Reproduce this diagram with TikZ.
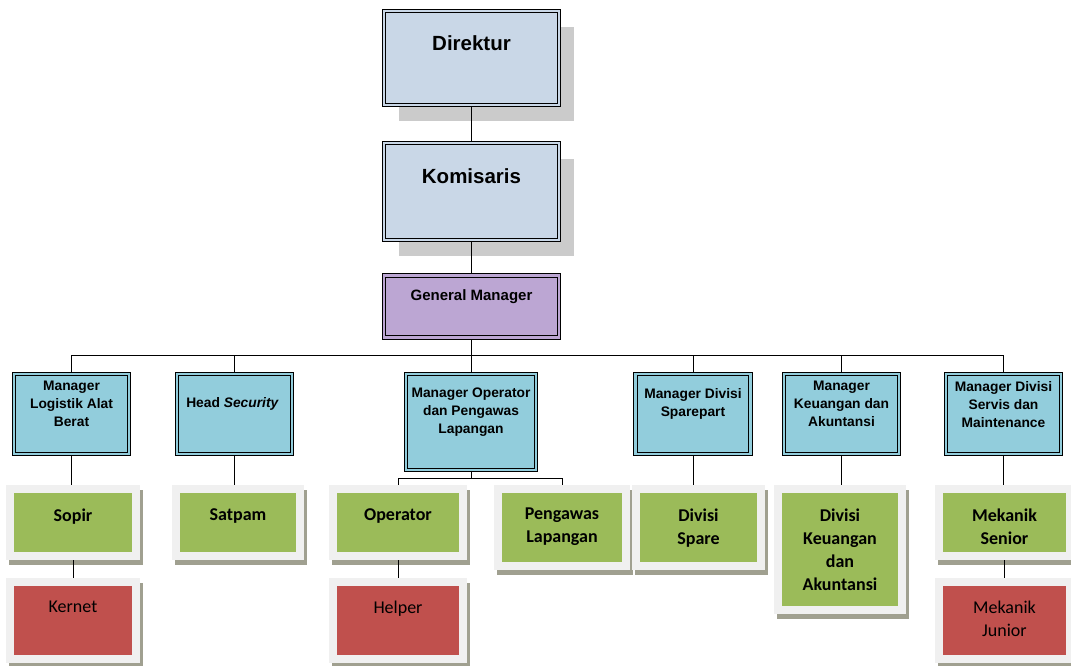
\documentclass[tikz,border=0pt]{standalone}
\usepackage{fontspec}
\setmainfont{Carlito}
\newfontfamily\arialfont{Liberation Sans}
\usetikzlibrary{positioning}
\definecolor{topFill}{HTML}{C9D7E7}
\definecolor{gmFill}{HTML}{BCA6D3}
\definecolor{mgrFill}{HTML}{92CDDC}
\definecolor{staffFill}{HTML}{9BBB59}
\definecolor{helperFill}{HTML}{C0504D}
\definecolor{frameGray}{HTML}{F0F0F0}
\definecolor{topShadow}{HTML}{CBCBCB}
\definecolor{staffShadow}{HTML}{A0A090}
\tikzstyle{conn} = [draw=black, line width=0.8pt]
\tikzstyle{dblBox} = [shape = rectangle, draw=black, line width=0.9pt, double distance=2.4pt, inner sep=0pt, outer sep=2.1pt]
\tikzstyle{topNode} = [dblBox, fill=topFill, double=topFill, minimum width=175pt, preaction={fill=topShadow, transform canvas={xshift=15pt, yshift=-16pt}}]
\tikzstyle{gmNode} = [dblBox, fill=gmFill, double=gmFill, minimum width=175pt, minimum height=62pt]
\tikzstyle{mgrNode} = [dblBox, fill=mgrFill, double=mgrFill, minimum width=115pt, minimum height=80pt, anchor=north]
\tikzstyle{frameBox} = [shape = rectangle, draw=frameGray, line width=8pt, inner sep=0pt, outer sep=4pt, minimum width=126pt, preaction={draw=staffShadow, fill=staffShadow, line width=8pt, transform canvas={xshift=3pt, yshift=-5pt}}]
\tikzstyle{staffNode} = [frameBox, fill=staffFill, minimum height=67pt]
\tikzstyle{helperNode} = [frameBox, fill=helperFill, minimum height=77pt]
\tikzstyle{topText} = [inner sep=0pt, font=\arialfont\bfseries\fontsize{20.5}{24}\selectfont]
\tikzstyle{gmText} = [inner sep=0pt, font=\arialfont\bfseries\fontsize{15}{18}\selectfont]
\tikzstyle{mgrText} = [inner sep=0pt, align=center, font=\arialfont\bfseries\fontsize{13.8}{18}\selectfont]
\tikzstyle{staffText} = [inner sep=0pt, align=center, anchor=north, font=\bfseries\fontsize{18}{23}\selectfont]
\tikzstyle{helperText} = [inner sep=0pt, align=center, anchor=north, font=\fontsize{18}{23}\selectfont]

\begin{document}
\begin{tikzpicture}[x=1pt, y=-1pt]
					\path[use as bounding box, fill=white] (0,0) rectangle (1071,666);
					\node (Dir) [topNode, minimum height=94pt] at (471.5,58) {};
					\node (Kom) [topNode, minimum height=97pt, below = 34pt of Dir] {};
					\node (GM) [gmNode, below = 31pt of Kom] {};
					\node (DirText) [topText] at ([yshift=-34.5pt]Dir.north) {Direktur};
					\node (KomText) [topText] at ([yshift=-35pt]Kom.north) {Komisaris};
					\node (GMText) [gmText] at ([yshift=-23pt]GM.north) {General Manager};
					\node (Mgr1) [mgrNode] at (71.5,372) {};
					\node (Mgr2) [mgrNode] at (234.5,372) {};
					\node (Mgr3) [mgrNode, minimum width=130pt, minimum height=96pt] at (471,372) {};
					\node (Mgr4) [mgrNode] at (693,372) {};
					\node (Mgr5) [mgrNode] at (841.5,372) {};
					\node (Mgr6) [mgrNode] at (1003.5,372) {};
					\node (Mgr1Text) [mgrText] at ([yshift=10pt]Mgr1.center) {
						Manager\\Logistik Alat\\Berat
					};
					\node (Mgr2Text) [mgrText] at ([yshift=10pt]Mgr2.center) {
						Head \textit{Security}
					};
					\node (Mgr3Text) [mgrText] at ([yshift=9.5pt]Mgr3.center) {
						Manager Operator\\dan Pengawas\\Lapangan
					};
					\node (Mgr4Text) [mgrText] at ([yshift=10pt]Mgr4.center) {
						Manager Divisi\\Sparepart
					};
					\node (Mgr5Text) [mgrText] at ([yshift=10pt]Mgr5.center) {
						Manager\\Keuangan dan\\Akuntansi
					};
					\node (Mgr6Text) [mgrText] at ([yshift=10pt]Mgr6.center) {
						Manager Divisi\\Servis dan\\Maintenance
					};
					\node (Sopir) [staffNode, below = 29pt of Mgr1, xshift=1.5pt] {};
					\node (Satpam) [staffNode, minimum width=124pt, below = 29pt of Mgr2, xshift=3.5pt] {};
					\node (Operator) [staffNode, minimum width=130pt, anchor=north] at (398,485) {};
					\node (Pengawas) [staffNode, minimum width=128pt, minimum height=77pt, anchor=north] at (562,485) {};
					\node (Spare) [staffNode, minimum width=125pt, minimum height=77pt, below = 29pt of Mgr4, xshift=5.5pt] {};
					\node (Keuangan) [staffNode, minimum width=124pt, minimum height=121pt, below = 29pt of Mgr5, xshift=-1.5pt] {};
					\node (Senior) [staffNode, minimum width=131pt, below = 29pt of Mgr6, xshift=1pt] {};
					\node (Kernet) [helperNode, below = 18pt of Sopir] {};
					\node (Helper) [helperNode, minimum width=130pt, below = 18pt of Operator] {};
					\node (Junior) [helperNode, minimum width=131pt, below = 18pt of Senior] {};
					\node (SopirText) [staffText] at ([yshift=-23pt]Sopir.north) {Sopir};
					\node (SatpamText) [staffText] at ([yshift=-23pt]Satpam.north) {Satpam};
					\node (OperatorText) [staffText] at ([yshift=-23pt]Operator.north) {Operator};
					\node (PengawasText) [staffText] at ([yshift=-23pt]Pengawas.north) {Pengawas\\Lapangan};
					\node (SpareText) [staffText] at ([yshift=-23pt]Spare.north) {Divisi\\Spare};
					\node (KeuanganText) [staffText] at ([yshift=-23pt]Keuangan.north) {Divisi\\Keuangan\\dan\\Akuntansi};
					\node (SeniorText) [staffText] at ([yshift=-23pt]Senior.north) {Mekanik\\Senior};
					\node (KernetText) [helperText] at ([yshift=-23pt]Kernet.north) {Kernet};
					\node (HelperText) [helperText] at ([yshift=-23pt]Helper.north) {Helper};
					\node (JuniorText) [helperText] at ([yshift=-23pt]Junior.north) {Mekanik\\Junior};
					\draw[conn] (Dir.south) -- (Kom.north);
					\draw[conn] (Kom.south) -- (GM.north);
					\foreach \m in {Mgr1,Mgr2,Mgr3,Mgr4,Mgr5,Mgr6}
						\draw[conn] (GM.south) -- ++(0,-16pt) -| (\m.north);
					\draw[conn] (Mgr1.south) -- (Mgr1.south |- Sopir.north);
					\draw[conn] (Mgr2.south) -- (Mgr2.south |- Satpam.north);
					\draw[conn] (Mgr3.south) -- ++(0,-6pt) -| (Operator.north);
					\draw[conn] (Mgr3.south) -- ++(0,-6pt) -| (Pengawas.north);
					\draw[conn] (Mgr4.south) -- (Mgr4.south |- Spare.north);
					\draw[conn] (Mgr5.south) -- (Mgr5.south |- Keuangan.north);
					\draw[conn] (Mgr6.south) -- (Mgr6.south |- Senior.north);
					\draw[conn] (Sopir.south) -- (Kernet.north);
					\draw[conn] (Operator.south) -- (Helper.north);
					\draw[conn] (Senior.south) -- (Junior.north);
\end{tikzpicture}
\end{document}
